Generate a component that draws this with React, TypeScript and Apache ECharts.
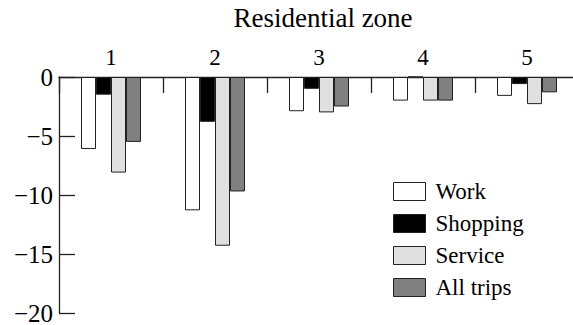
import React, { useEffect, useRef } from "react";
import * as echarts from "echarts";

// Change in trips by residential zone, per trip purpose
const zones = ["1", "2", "3", "4", "5"];
const work = [-6.1, -11.3, -2.9, -2.0, -1.6];
const shopping = [-1.5, -3.8, -1.0, 0, -0.6];
const service = [-8.1, -14.3, -3.0, -2.0, -2.3];
const allTrips = [-5.5, -9.7, -2.5, -2.0, -1.3];

const seriesNames = ["Work", "Shopping", "Service", "All trips"];
const seriesColors = ["#ffffff", "#000000", "#e0e0e0", "#808080"];
const seriesData = [work, shopping, service, allTrips];

const FONT = "'Liberation Serif', 'Times New Roman', serif";
const INK = "#222222";

export default function App() {
  const ref = useRef<HTMLDivElement>(null);

  useEffect(() => {
    if (!ref.current) return;
    const chart = echarts.init(ref.current, null, { renderer: "svg" });
    chart.setOption({
      animation: false,
      backgroundColor: "#ffffff",
      textStyle: { fontFamily: FONT, color: "#000" },
      grid: {
        left: 59,
        right: -6,
        top: 77,
        bottom: 12,
        containLabel: false,
        outerBoundsMode: "none",
      },
      legend: {
        orient: "vertical",
        left: 393,
        top: 180,
        itemWidth: 32,
        itemHeight: 18,
        itemGap: 9,
        padding: 0,
        icon: "rect",
        textStyle: { fontFamily: FONT, fontSize: 23, color: "#000", padding: [0, 0, 0, 5] },
        itemStyle: { borderColor: INK, borderWidth: 1 },
        data: seriesNames,
      },
      xAxis: {
        type: "category",
        position: "top",
        data: zones,
        name: "Residential zone",
        nameLocation: "middle",
        nameGap: 46,
        nameTextStyle: { fontFamily: FONT, fontSize: 27, color: "#000", padding: [0, 0, 0, 8] },
        axisLine: { lineStyle: { color: INK, width: 1.3 } },
        axisTick: { show: true, inside: true, length: 16, lineStyle: { color: INK, width: 1.3 } },
        axisLabel: { fontFamily: FONT, fontSize: 23, color: "#000", margin: 8 },
      },
      yAxis: {
        type: "value",
        min: -20,
        max: 0,
        interval: 5,
        splitLine: { show: false },
        axisLine: { show: true, lineStyle: { color: INK, width: 1.3 } },
        axisTick: { show: true, inside: true, length: 16, lineStyle: { color: INK, width: 1.3 } },
        axisLabel: {
          fontFamily: FONT,
          fontSize: 25,
          color: "#000",
          margin: 6,
          formatter: (v: number) => String(v).replace("-", "\u2212"),
        },
      },
      series: seriesNames.map((name, i) => ({
        name,
        type: "bar",
        data: seriesData[i],
        barWidth: 15,
        barGap: "0%",
        itemStyle: { color: seriesColors[i], borderColor: INK, borderWidth: 1 },
      })),
    });
    return () => chart.dispose();
  }, []);

  return (
    <div
      ref={ref}
      style={{ position: "absolute", left: 0, top: 0, width: 573, height: 325, overflow: "hidden" }}
    />
  );
}
